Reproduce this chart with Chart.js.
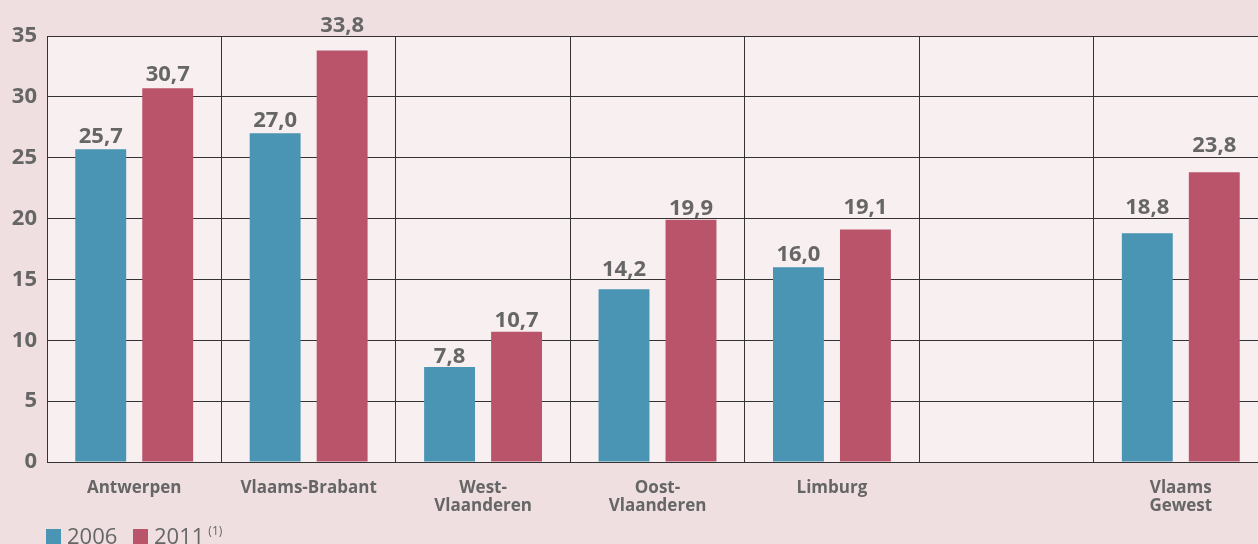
<!DOCTYPE html>
<html>
<head>
<meta charset="utf-8">
<script src="https://cdn.jsdelivr.net/npm/chart.js@4"></script>
<style>
  html, body { margin: 0; padding: 0; background: #efdfe1; overflow: hidden; }
  #wrap { position: relative; width: 1258px; height: 544px; overflow: hidden; }
  #box { position: absolute; left: 0; top: 0; width: 1270px; height: 544px; }
  #legend { position: absolute; left: 46px; top: 520px; font-family: "Open Sans", sans-serif; font-size: 22px; color: #666; white-space: nowrap; }
  #legend span.sw { display: inline-block; width: 15px; height: 16px; vertical-align: -1px; margin-right: 6px; }
  #legend sup { font-size: 12px; vertical-align: 9px; margin-left: 4px; }
</style>
</head>
<body>
<div id="wrap">
  <div id="box"><canvas id="barChart"></canvas></div>
  <div id="legend">
    <span class="sw" style="background:#4a95b3"></span>2006
    <span class="sw" style="background:#b9546a;margin-left:10px"></span>2011<sup>(1)</sup>
  </div>
</div>
<script>
const categories = [
  "Antwerpen",
  "Vlaams-Brabant",
  ["West-", "Vlaanderen"],
  ["Oost-", "Vlaanderen"],
  "Limburg",
  "",
  ["Vlaams", "Gewest"],
];
const values2006 = [25.7, 27.0, 7.8, 14.2, 16.0, null, 18.8];
const values2011 = [30.7, 33.8, 10.7, 19.9, 19.1, null, 23.8];
const yTicks = [0, 5, 10, 15, 20, 25, 30, 35];

// gap (px) between bar top and its value label, as placed in the original
const labelLift = [
  [6, 6, 4, 13, 6, 0, 19],
  [7, 19, 5, 5, 16, 0, 20],
];

const textGrey = "#666666";

const plotBg = {
  id: "plotBg",
  beforeDraw(chart) {
    const { ctx, chartArea: a } = chart;
    ctx.save();
    ctx.fillStyle = "#f8eff0";
    ctx.fillRect(a.left, a.top, a.right - a.left, a.bottom - a.top);
    ctx.restore();
  },
};

const barLabels = {
  id: "barLabels",
  afterDatasetsDraw(chart) {
    const ctx = chart.ctx;
    ctx.save();
    ctx.font = "bold 22px 'Open Sans'";
    ctx.fillStyle = textGrey;
    ctx.textAlign = "center";
    ctx.textBaseline = "alphabetic";
    chart.data.datasets.forEach((ds, i) => {
      chart.getDatasetMeta(i).data.forEach((bar, j) => {
        const v = ds.data[j];
        if (v == null) return;
        ctx.fillText(v.toFixed(1).replace(".", ","), bar.x, bar.y - labelLift[i][j]);
      });
    });
    ctx.restore();
  },
};

Chart.defaults.font.family = "'Open Sans', sans-serif";

new Chart(document.getElementById("barChart"), {
  type: "bar",
  data: {
    labels: categories,
    datasets: [
      {
        label: "2006",
        data: values2006,
        backgroundColor: "#4a95b3",
        categoryPercentage: 0.768,
        barPercentage: 0.76,
      },
      {
        label: "2011",
        data: values2011,
        backgroundColor: "#b9546a",
        categoryPercentage: 0.768,
        barPercentage: 0.76,
      },
    ],
  },
  options: {
    responsive: true,
    maintainAspectRatio: false,
    animation: false,
    layout: { padding: { top: 36, left: 0, right: 2, bottom: 0 } },
    plugins: {
      legend: { display: false },
      tooltip: { enabled: false },
    },
    scales: {
      x: {
        grid: { color: "#333", lineWidth: 1, drawTicks: false, offset: true },
        border: { color: "#333", width: 1 },
        ticks: {
          color: textGrey,
          font: { size: 17, weight: "bold", lineHeight: 1.05 },
          padding: 17,
          maxRotation: 0,
          autoSkip: false,
        },
        afterFit(scale) { scale.height = 82; },
      },
      y: {
        min: 0,
        max: 35,
        afterBuildTicks(scale) { scale.ticks = yTicks.map(v => ({ value: v })); },
        grid: { color: "#333", lineWidth: 1, drawTicks: false },
        border: { color: "#333", width: 1 },
        ticks: {
          color: textGrey,
          font: { size: 22, weight: "bold" },
          padding: 10,
        },
        afterFit(scale) { scale.width = 47; },
      },
    },
  },
  plugins: [plotBg, barLabels],
});
</script>
</body>
</html>
